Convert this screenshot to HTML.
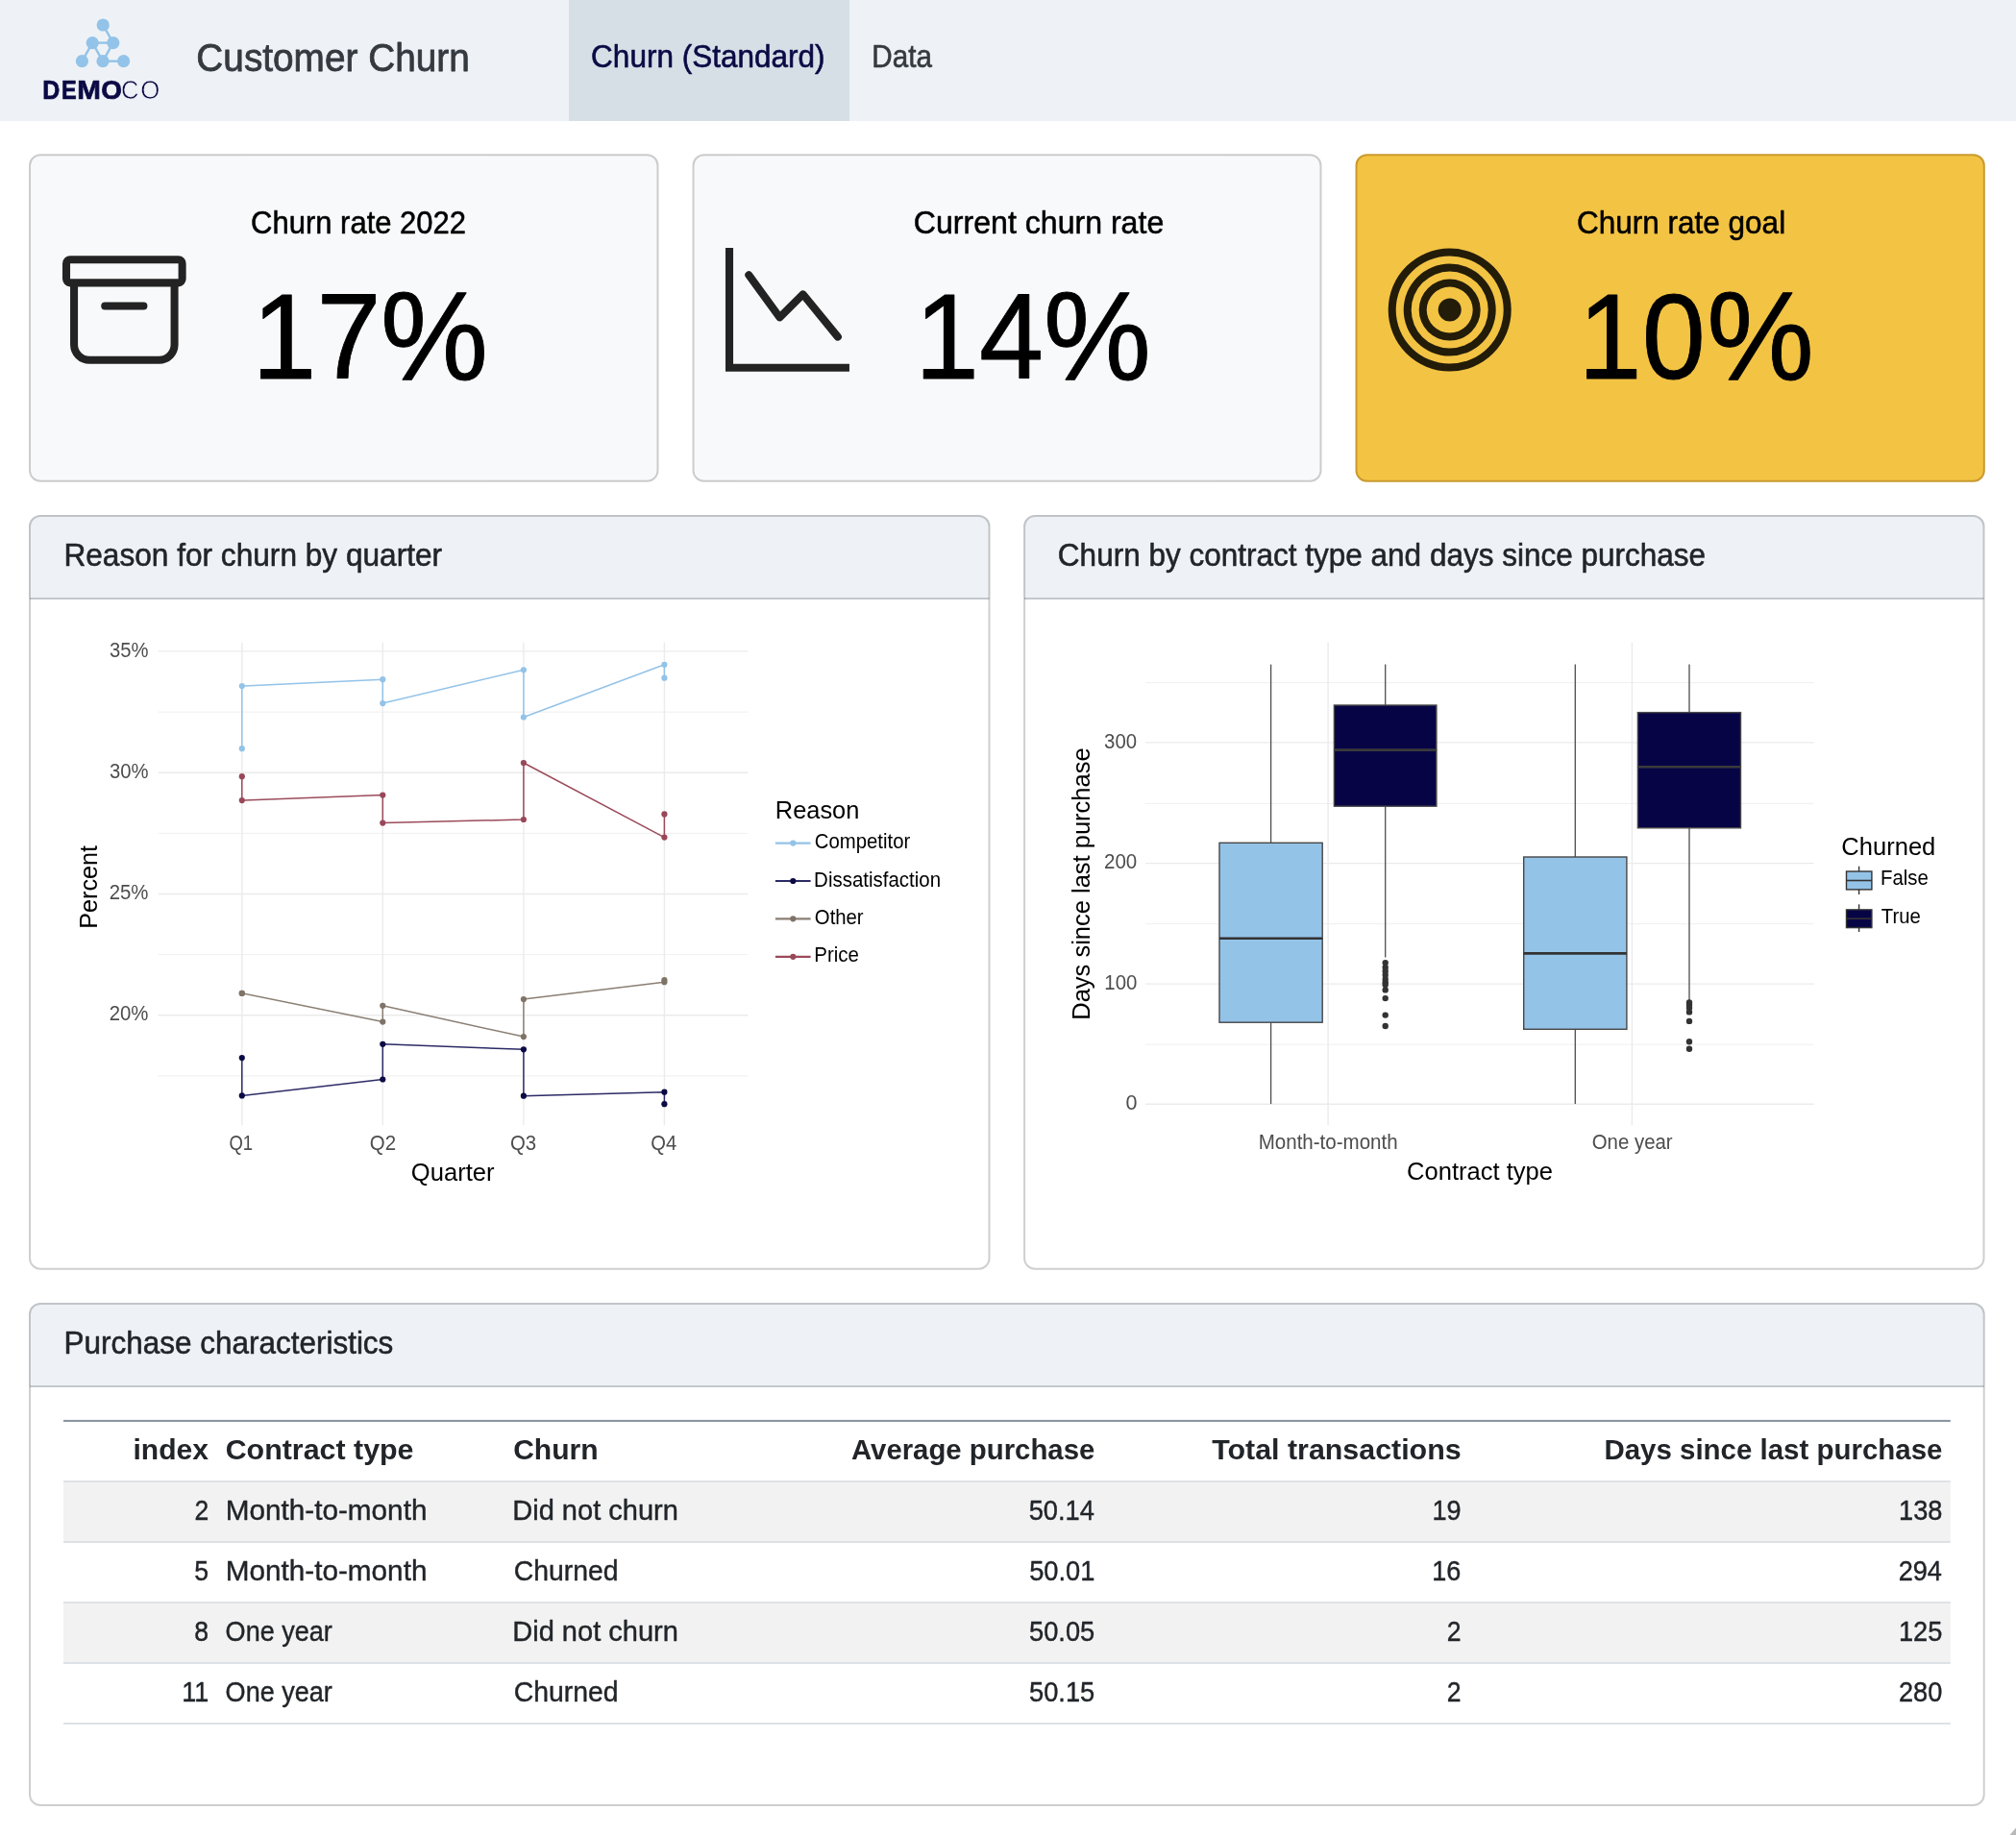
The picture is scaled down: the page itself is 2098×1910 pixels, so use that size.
<!DOCTYPE html>
<html lang="en"><head><meta charset="utf-8"><title>Customer Churn</title>
<style>
html,body{margin:0;padding:0;background:#fff;width:2098px;height:1910px;overflow:hidden}
svg{display:block;will-change:transform;font-family:"Liberation Sans",sans-serif}
</style></head><body>
<svg width="2098" height="1910" viewBox="0 0 2098 1910" font-family="Liberation Sans, sans-serif">
<rect x="0" y="0" width="2098" height="126" fill="#eef2f6"/>
<rect x="592" y="0" width="292" height="126" fill="#d6dfe6"/>
<line x1="107.2" y1="26.0" x2="117.8" y2="44.6" stroke="#93c3e8" stroke-width="2.4"/>
<line x1="96.2" y1="44.6" x2="117.8" y2="44.6" stroke="#93c3e8" stroke-width="2.4"/>
<line x1="96.2" y1="44.6" x2="85.4" y2="63.7" stroke="#93c3e8" stroke-width="2.4"/>
<line x1="96.2" y1="44.6" x2="107.0" y2="63.7" stroke="#93c3e8" stroke-width="2.4"/>
<line x1="117.8" y1="44.6" x2="107.0" y2="63.7" stroke="#93c3e8" stroke-width="2.4"/>
<line x1="107.0" y1="63.7" x2="128.6" y2="63.7" stroke="#93c3e8" stroke-width="2.4"/>
<circle cx="107.2" cy="26.0" r="6.6" fill="#93c3e8"/>
<circle cx="96.2" cy="44.6" r="6.6" fill="#93c3e8"/>
<circle cx="117.8" cy="44.6" r="6.6" fill="#93c3e8"/>
<circle cx="85.4" cy="63.7" r="6.6" fill="#93c3e8"/>
<circle cx="107.0" cy="63.7" r="6.6" fill="#93c3e8"/>
<circle cx="128.6" cy="63.7" r="6.6" fill="#93c3e8"/>
<rect x="31" y="161.3" width="653.5" height="339.5" rx="11" fill="#f8f9fa" stroke="rgba(0,0,0,0.19)" stroke-width="2"/>
<rect x="721.5" y="161.3" width="653" height="339.5" rx="11" fill="#f8f9fa" stroke="rgba(0,0,0,0.19)" stroke-width="2"/>
<rect x="1411.5" y="161.3" width="653.3" height="339.5" rx="11" fill="#f3c343" stroke="#c99b2e" stroke-width="2"/>
<g transform="translate(65,258.2) scale(8.04)" fill="#000" fill-opacity="0.86"><path d="M0 2a1 1 0 0 1 1-1h14a1 1 0 0 1 1 1v2a1 1 0 0 1-1 1v7.5a2.5 2.5 0 0 1-2.5 2.5h-9A2.5 2.5 0 0 1 1 12.5V5a1 1 0 0 1-1-1V2zm2 3v7.5A1.5 1.5 0 0 0 3.5 14h9a1.5 1.5 0 0 0 1.5-1.5V5H2zm13-3H1v2h14V2zM5 7.5a.5.5 0 0 1 .5-.5h5a.5.5 0 0 1 0 1h-5a.5.5 0 0 1-.5-.5z"/></g>
<g transform="translate(755,257.9) scale(8.06)" fill="#000" fill-opacity="0.86"><path d="M0 0h1v15h15v1H0V0Zm14.817 11.887a.5.5 0 0 0 .07-.704l-4.5-5.5a.5.5 0 0 0-.74-.037L7.06 8.233 3.404 3.206a.5.5 0 0 0-.808.588l4 5.5a.5.5 0 0 0 .758.06l2.609-2.61 4.15 5.073a.5.5 0 0 0 .704.07Z"/></g>
<g transform="translate(1444.7,258.6) scale(8)" fill="#000" fill-opacity="0.86"><path d="M8 15A7 7 0 1 1 8 1a7 7 0 0 1 0 14zm0 1A8 8 0 1 0 8 0a8 8 0 0 0 0 16z"/><path d="M8 13A5 5 0 1 1 8 3a5 5 0 0 1 0 10zm0 1A6 6 0 1 0 8 2a6 6 0 0 0 0 12z"/><path d="M8 11a3 3 0 1 1 0-6 3 3 0 0 1 0 6zm0 1a4 4 0 1 0 0-8 4 4 0 0 0 0 8z"/><path d="M9.5 8a1.5 1.5 0 1 1-3 0 1.5 1.5 0 0 1 3 0z"/></g>
<clipPath id="c30_536"><rect x="30" y="536" width="1000.5" height="785.8" rx="12"/></clipPath>
<rect x="30" y="536" width="1000.5" height="785.8" rx="12" fill="#fff"/>
<rect x="30" y="536" width="1000.5" height="86" fill="#eef2f6" clip-path="url(#c30_536)"/>
<rect x="31" y="622" width="998.5" height="2" fill="#c3c8cd"/>
<rect x="31" y="537" width="998.5" height="783.8" rx="11" fill="none" stroke="rgba(0,0,0,0.19)" stroke-width="2"/>
<clipPath id="c1065_536"><rect x="1065.1" y="536" width="1000.4" height="785.8" rx="12"/></clipPath>
<rect x="1065.1" y="536" width="1000.4" height="785.8" rx="12" fill="#fff"/>
<rect x="1065.1" y="536" width="1000.4" height="86" fill="#eef2f6" clip-path="url(#c1065_536)"/>
<rect x="1066.1" y="622" width="998.4" height="2" fill="#c3c8cd"/>
<rect x="1066.1" y="537" width="998.4" height="783.8" rx="11" fill="none" stroke="rgba(0,0,0,0.19)" stroke-width="2"/>
<clipPath id="c30_1356"><rect x="30" y="1356" width="2035.7" height="523.9" rx="12"/></clipPath>
<rect x="30" y="1356" width="2035.7" height="523.9" rx="12" fill="#fff"/>
<rect x="30" y="1356" width="2035.7" height="86" fill="#eef2f6" clip-path="url(#c30_1356)"/>
<rect x="31" y="1442" width="2033.7" height="2" fill="#c3c8cd"/>
<rect x="31" y="1357" width="2033.7" height="521.9" rx="11" fill="none" stroke="rgba(0,0,0,0.19)" stroke-width="2"/>
<path d="M2091.5 1910 L2098 1902.5 L2098 1910 Z" fill="#b8b8b8"/>
<line x1="164.6" x2="778.4" y1="741.1" y2="741.1" stroke="#ebebeb" stroke-width="0.8"/>
<line x1="164.6" x2="778.4" y1="867.4" y2="867.4" stroke="#ebebeb" stroke-width="0.8"/>
<line x1="164.6" x2="778.4" y1="993.6" y2="993.6" stroke="#ebebeb" stroke-width="0.8"/>
<line x1="164.6" x2="778.4" y1="1119.9" y2="1119.9" stroke="#ebebeb" stroke-width="0.8"/>
<line x1="164.6" x2="778.4" y1="677.9" y2="677.9" stroke="#ebebeb" stroke-width="1.4"/>
<line x1="164.6" x2="778.4" y1="804.2" y2="804.2" stroke="#ebebeb" stroke-width="1.4"/>
<line x1="164.6" x2="778.4" y1="930.5" y2="930.5" stroke="#ebebeb" stroke-width="1.4"/>
<line x1="164.6" x2="778.4" y1="1056.8" y2="1056.8" stroke="#ebebeb" stroke-width="1.4"/>
<line x1="251.8" x2="251.8" y1="668.8" y2="1171.2" stroke="#ebebeb" stroke-width="1.4"/>
<line x1="398.3" x2="398.3" y1="668.8" y2="1171.2" stroke="#ebebeb" stroke-width="1.4"/>
<line x1="544.9" x2="544.9" y1="668.8" y2="1171.2" stroke="#ebebeb" stroke-width="1.4"/>
<line x1="691.4" x2="691.4" y1="668.8" y2="1171.2" stroke="#ebebeb" stroke-width="1.4"/>
<path d="M251.8,779.2 L251.8,714.0 L398.3,707.2 L398.3,732.1 L544.9,697.3 L544.9,746.5 L691.4,691.8 L691.4,705.7" fill="none" stroke="#93c3e8" stroke-width="1.5" stroke-linejoin="round"/>
<circle cx="251.8" cy="779.2" r="3.1" fill="#93c3e8"/>
<circle cx="251.8" cy="714.0" r="3.1" fill="#93c3e8"/>
<circle cx="398.3" cy="707.2" r="3.1" fill="#93c3e8"/>
<circle cx="398.3" cy="732.1" r="3.1" fill="#93c3e8"/>
<circle cx="544.9" cy="697.3" r="3.1" fill="#93c3e8"/>
<circle cx="544.9" cy="746.5" r="3.1" fill="#93c3e8"/>
<circle cx="691.4" cy="691.8" r="3.1" fill="#93c3e8"/>
<circle cx="691.4" cy="705.7" r="3.1" fill="#93c3e8"/>
<path d="M251.8,808.2 L251.8,833.1 L398.3,827.6 L398.3,856.6 L544.9,853.0 L544.9,794.0 L691.4,871.6 L691.4,847.4" fill="none" stroke="#9b4b5b" stroke-width="1.5" stroke-linejoin="round"/>
<circle cx="251.8" cy="808.2" r="3.1" fill="#984858"/>
<circle cx="251.8" cy="833.1" r="3.1" fill="#984858"/>
<circle cx="398.3" cy="827.6" r="3.1" fill="#984858"/>
<circle cx="398.3" cy="856.6" r="3.1" fill="#984858"/>
<circle cx="544.9" cy="853.0" r="3.1" fill="#984858"/>
<circle cx="544.9" cy="794.0" r="3.1" fill="#984858"/>
<circle cx="691.4" cy="871.6" r="3.1" fill="#984858"/>
<circle cx="691.4" cy="847.4" r="3.1" fill="#984858"/>
<path d="M251.8,1033.9 L251.8,1033.9 L398.3,1063.6 L398.3,1046.8 L544.9,1079.1 L544.9,1040.1 L691.4,1022.2 L691.4,1020.0" fill="none" stroke="#8a7f73" stroke-width="1.5" stroke-linejoin="round"/>
<circle cx="251.8" cy="1033.9" r="3.1" fill="#7f7367"/>
<circle cx="251.8" cy="1033.9" r="3.1" fill="#7f7367"/>
<circle cx="398.3" cy="1063.6" r="3.1" fill="#7f7367"/>
<circle cx="398.3" cy="1046.8" r="3.1" fill="#7f7367"/>
<circle cx="544.9" cy="1079.1" r="3.1" fill="#7f7367"/>
<circle cx="544.9" cy="1040.1" r="3.1" fill="#7f7367"/>
<circle cx="691.4" cy="1022.2" r="3.1" fill="#7f7367"/>
<circle cx="691.4" cy="1020.0" r="3.1" fill="#7f7367"/>
<path d="M251.8,1101.1 L251.8,1140.4 L398.3,1123.5 L398.3,1086.8 L544.9,1092.3 L544.9,1140.7 L691.4,1136.7 L691.4,1149.2" fill="none" stroke="#2c2b66" stroke-width="1.5" stroke-linejoin="round"/>
<circle cx="251.8" cy="1101.1" r="3.1" fill="#0b0a45"/>
<circle cx="251.8" cy="1140.4" r="3.1" fill="#0b0a45"/>
<circle cx="398.3" cy="1123.5" r="3.1" fill="#0b0a45"/>
<circle cx="398.3" cy="1086.8" r="3.1" fill="#0b0a45"/>
<circle cx="544.9" cy="1092.3" r="3.1" fill="#0b0a45"/>
<circle cx="544.9" cy="1140.7" r="3.1" fill="#0b0a45"/>
<circle cx="691.4" cy="1136.7" r="3.1" fill="#0b0a45"/>
<circle cx="691.4" cy="1149.2" r="3.1" fill="#0b0a45"/>
<line x1="806.9" x2="843.6" y1="877.6" y2="877.6" stroke="#93c3e8" stroke-width="2.2"/>
<circle cx="825.3" cy="877.6" r="3.1" fill="#93c3e8"/>
<line x1="806.9" x2="843.6" y1="917.0" y2="917.0" stroke="#2c2b66" stroke-width="2.2"/>
<circle cx="825.3" cy="917.0" r="3.1" fill="#0b0a45"/>
<line x1="806.9" x2="843.6" y1="956.3" y2="956.3" stroke="#8a7f73" stroke-width="2.2"/>
<circle cx="825.3" cy="956.3" r="3.1" fill="#7f7367"/>
<line x1="806.9" x2="843.6" y1="995.8" y2="995.8" stroke="#9b4b5b" stroke-width="2.2"/>
<circle cx="825.3" cy="995.8" r="3.1" fill="#984858"/>
<line x1="1192" x2="1887.7" y1="710.6" y2="710.6" stroke="#ebebeb" stroke-width="0.8"/>
<line x1="1192" x2="1887.7" y1="836.4" y2="836.4" stroke="#ebebeb" stroke-width="0.8"/>
<line x1="1192" x2="1887.7" y1="961.6" y2="961.6" stroke="#ebebeb" stroke-width="0.8"/>
<line x1="1192" x2="1887.7" y1="1087.2" y2="1087.2" stroke="#ebebeb" stroke-width="0.8"/>
<line x1="1192" x2="1887.7" y1="772.9" y2="772.9" stroke="#ebebeb" stroke-width="1.4"/>
<line x1="1192" x2="1887.7" y1="898.6" y2="898.6" stroke="#ebebeb" stroke-width="1.4"/>
<line x1="1192" x2="1887.7" y1="1024.1" y2="1024.1" stroke="#ebebeb" stroke-width="1.4"/>
<line x1="1192" x2="1887.7" y1="1149.3" y2="1149.3" stroke="#ebebeb" stroke-width="1.4"/>
<line x1="1382.1" x2="1382.1" y1="668.6" y2="1171.2" stroke="#ebebeb" stroke-width="1.4"/>
<line x1="1698.4" x2="1698.4" y1="668.6" y2="1171.2" stroke="#ebebeb" stroke-width="1.4"/>
<line x1="1322.6" x2="1322.6" y1="691.6" y2="877.3" stroke="#4d4d4d" stroke-width="1.3"/>
<line x1="1322.6" x2="1322.6" y1="1064.2" y2="1149.1" stroke="#4d4d4d" stroke-width="1.3"/>
<rect x="1269.0" y="877.3" width="107.20" height="186.90" fill="#94c3e8" stroke="#474747" stroke-width="1.4"/>
<line x1="1269.0" x2="1376.2" y1="976.8" y2="976.8" stroke="#333333" stroke-width="2.6"/>
<line x1="1441.7" x2="1441.7" y1="691.6" y2="734.0" stroke="#4d4d4d" stroke-width="1.3"/>
<line x1="1441.7" x2="1441.7" y1="839.2" y2="996.5" stroke="#4d4d4d" stroke-width="1.3"/>
<rect x="1388.4" y="734.0" width="106.50" height="105.20" fill="#070446" stroke="#474747" stroke-width="1.4"/>
<line x1="1388.4" x2="1494.9" y1="780.6" y2="780.6" stroke="#3a3a3a" stroke-width="2.6"/>
<circle cx="1441.7" cy="1002.1" r="3.2" fill="#333333"/>
<circle cx="1441.7" cy="1007" r="3.2" fill="#333333"/>
<circle cx="1441.7" cy="1011" r="3.2" fill="#333333"/>
<circle cx="1441.7" cy="1015" r="3.2" fill="#333333"/>
<circle cx="1441.7" cy="1019" r="3.2" fill="#333333"/>
<circle cx="1441.7" cy="1022.5" r="3.2" fill="#333333"/>
<circle cx="1441.7" cy="1025" r="3.2" fill="#333333"/>
<circle cx="1441.7" cy="1030.4" r="3.2" fill="#333333"/>
<circle cx="1441.7" cy="1039.1" r="3.2" fill="#333333"/>
<circle cx="1441.7" cy="1056.6" r="3.2" fill="#333333"/>
<circle cx="1441.7" cy="1068.0" r="3.2" fill="#333333"/>
<line x1="1639.3" x2="1639.3" y1="691.6" y2="892.0" stroke="#4d4d4d" stroke-width="1.3"/>
<line x1="1639.3" x2="1639.3" y1="1071.3" y2="1149.1" stroke="#4d4d4d" stroke-width="1.3"/>
<rect x="1585.7" y="892.0" width="107.20" height="179.30" fill="#94c3e8" stroke="#474747" stroke-width="1.4"/>
<line x1="1585.7" x2="1692.9" y1="992.4" y2="992.4" stroke="#333333" stroke-width="2.6"/>
<line x1="1758.0" x2="1758.0" y1="691.6" y2="741.6" stroke="#4d4d4d" stroke-width="1.3"/>
<line x1="1758.0" x2="1758.0" y1="861.8" y2="1041.6" stroke="#4d4d4d" stroke-width="1.3"/>
<rect x="1704.4" y="741.6" width="107.10" height="120.20" fill="#070446" stroke="#474747" stroke-width="1.4"/>
<line x1="1704.4" x2="1811.5" y1="798.3" y2="798.3" stroke="#3a3a3a" stroke-width="2.6"/>
<circle cx="1758.0" cy="1043.5" r="3.2" fill="#333333"/>
<circle cx="1758.0" cy="1046" r="3.2" fill="#333333"/>
<circle cx="1758.0" cy="1049" r="3.2" fill="#333333"/>
<circle cx="1758.0" cy="1053.4" r="3.2" fill="#333333"/>
<circle cx="1758.0" cy="1062.9" r="3.2" fill="#333333"/>
<circle cx="1758.0" cy="1084.2" r="3.2" fill="#333333"/>
<circle cx="1758.0" cy="1091.8" r="3.2" fill="#333333"/>
<line x1="1934.6" x2="1934.6" y1="901.7" y2="931" stroke="#333333" stroke-width="1.4"/>
<rect x="1921.5" y="907" width="26.4" height="18.90" fill="#94c3e8" stroke="#333333" stroke-width="1.4"/>
<line x1="1921.5" x2="1947.9" y1="916.5" y2="916.5" stroke="#333333" stroke-width="1.6"/>
<line x1="1934.6" x2="1934.6" y1="941.3" y2="970" stroke="#333333" stroke-width="1.4"/>
<rect x="1921.5" y="946.9" width="26.4" height="18.70" fill="#070446" stroke="#333333" stroke-width="1.4"/>
<line x1="1921.5" x2="1947.9" y1="956.2" y2="956.2" stroke="#333333" stroke-width="1.6"/>
<rect x="66" y="1477.9" width="1963.8" height="2.1" fill="#8c96a0"/>
<rect x="66" y="1543.0" width="1963.8" height="61" fill="#f2f2f2"/>
<rect x="66" y="1669.0" width="1963.8" height="61" fill="#f2f2f2"/>
<rect x="66" y="1541.0" width="1963.8" height="2" fill="#dee2e6"/>
<rect x="66" y="1604.0" width="1963.8" height="2" fill="#dee2e6"/>
<rect x="66" y="1667.0" width="1963.8" height="2" fill="#dee2e6"/>
<rect x="66" y="1730.0" width="1963.8" height="2" fill="#dee2e6"/>
<rect x="66" y="1793.0" width="1963.8" height="2" fill="#dee2e6"/>
<text x="204.33" y="73.90" font-size="40.0" font-weight="400" fill="#343a40" textLength="284.39" lengthAdjust="spacingAndGlyphs"  stroke="#343a40" stroke-width="0.8" stroke-linejoin="round">Customer Churn</text>
<text x="615.10" y="70.10" font-size="32.6" font-weight="400" fill="#0b0a45" textLength="243.46" lengthAdjust="spacingAndGlyphs"  stroke="#0b0a45" stroke-width="0.6" stroke-linejoin="round">Churn (Standard)</text>
<text x="907.37" y="69.90" font-size="32.6" font-weight="400" fill="#343a40" textLength="62.53" lengthAdjust="spacingAndGlyphs"  stroke="#343a40" stroke-width="0.6" stroke-linejoin="round">Data</text>
<text x="44.33" y="102.80" font-size="27.2" font-weight="700" fill="#0b0a45" textLength="18.02" lengthAdjust="spacingAndGlyphs" stroke="#0b0a45" stroke-width="0.7">D</text>
<text x="63.93" y="102.80" font-size="27.2" font-weight="700" fill="#0b0a45" textLength="15.69" lengthAdjust="spacingAndGlyphs" stroke="#0b0a45" stroke-width="0.7">E</text>
<text x="80.22" y="102.80" font-size="27.2" font-weight="700" fill="#0b0a45" textLength="24.66" lengthAdjust="spacingAndGlyphs" stroke="#0b0a45" stroke-width="0.7">M</text>
<text x="105.25" y="102.80" font-size="27.2" font-weight="700" fill="#0b0a45" textLength="21.72" lengthAdjust="spacingAndGlyphs" stroke="#0b0a45" stroke-width="0.7">O</text>
<text x="126.11" y="102.80" font-size="27.2" font-weight="400" fill="#0b0a45" textLength="18.36" lengthAdjust="spacingAndGlyphs" stroke="#eef2f6" stroke-width="0.6">C</text>
<text x="146.28" y="102.80" font-size="27.2" font-weight="400" fill="#0b0a45" textLength="20.06" lengthAdjust="spacingAndGlyphs" stroke="#eef2f6" stroke-width="0.6">O</text>
<text x="261.10" y="243.10" font-size="33.2" font-weight="400" fill="#000" textLength="223.98" lengthAdjust="spacingAndGlyphs"  stroke="#000" stroke-width="0.55" stroke-linejoin="round">Churn rate 2022</text>
<text x="950.84" y="242.90" font-size="33.2" font-weight="400" fill="#000" textLength="260.41" lengthAdjust="spacingAndGlyphs"  stroke="#000" stroke-width="0.55" stroke-linejoin="round">Current churn rate</text>
<text x="1640.97" y="242.90" font-size="33.2" font-weight="400" fill="#000" textLength="217.16" lengthAdjust="spacingAndGlyphs"  stroke="#000" stroke-width="0.55" stroke-linejoin="round">Churn rate goal</text>
<text x="262.36" y="393.90" font-size="126.5" font-weight="400" fill="#000" textLength="134.27" lengthAdjust="spacingAndGlyphs"  stroke="#000" stroke-width="0.9" stroke-linejoin="round">17</text>
<text x="395.96" y="394.60" font-size="132" font-weight="400" fill="#000" textLength="111.98" lengthAdjust="spacingAndGlyphs"  stroke="#000" stroke-width="0.9" stroke-linejoin="round">%</text>
<text x="952.07" y="393.90" font-size="126.5" font-weight="400" fill="#000" textLength="134.01" lengthAdjust="spacingAndGlyphs"  stroke="#000" stroke-width="0.9" stroke-linejoin="round">14</text>
<text x="1085.97" y="394.60" font-size="132" font-weight="400" fill="#000" textLength="111.87" lengthAdjust="spacingAndGlyphs"  stroke="#000" stroke-width="0.9" stroke-linejoin="round">%</text>
<text x="1642.60" y="393.70" font-size="126.5" font-weight="400" fill="#000" textLength="132.20" lengthAdjust="spacingAndGlyphs"  stroke="#000" stroke-width="0.9" stroke-linejoin="round">10</text>
<text x="1776.28" y="394.60" font-size="132" font-weight="400" fill="#000" textLength="111.54" lengthAdjust="spacingAndGlyphs"  stroke="#000" stroke-width="0.9" stroke-linejoin="round">%</text>
<text x="66.38" y="588.90" font-size="32.6" font-weight="400" fill="#212529" textLength="393.77" lengthAdjust="spacingAndGlyphs"  stroke="#212529" stroke-width="0.55" stroke-linejoin="round">Reason for churn by quarter</text>
<text x="1100.87" y="588.90" font-size="32.6" font-weight="400" fill="#212529" textLength="674.25" lengthAdjust="spacingAndGlyphs"  stroke="#212529" stroke-width="0.55" stroke-linejoin="round">Churn by contract type and days since purchase</text>
<text x="66.59" y="1408.90" font-size="32.6" font-weight="400" fill="#212529" textLength="342.77" lengthAdjust="spacingAndGlyphs"  stroke="#212529" stroke-width="0.55" stroke-linejoin="round">Purchase characteristics</text>
<text x="113.93" y="684.40" font-size="21.6" font-weight="400" fill="#4d4d4d" textLength="40.49" lengthAdjust="spacingAndGlyphs" >35%</text>
<text x="113.93" y="810.40" font-size="21.6" font-weight="400" fill="#4d4d4d" textLength="40.49" lengthAdjust="spacingAndGlyphs" >30%</text>
<text x="113.68" y="936.30" font-size="21.6" font-weight="400" fill="#4d4d4d" textLength="40.75" lengthAdjust="spacingAndGlyphs" >25%</text>
<text x="113.68" y="1062.30" font-size="21.6" font-weight="400" fill="#4d4d4d" textLength="40.75" lengthAdjust="spacingAndGlyphs" >20%</text>
<text x="238.42" y="1197.20" font-size="21.6" font-weight="400" fill="#4d4d4d" textLength="24.68" lengthAdjust="spacingAndGlyphs" >Q1</text>
<text x="384.73" y="1197.20" font-size="21.6" font-weight="400" fill="#4d4d4d" textLength="27.30" lengthAdjust="spacingAndGlyphs" >Q2</text>
<text x="531.04" y="1197.20" font-size="21.6" font-weight="400" fill="#4d4d4d" textLength="27.16" lengthAdjust="spacingAndGlyphs" >Q3</text>
<text x="677.35" y="1197.20" font-size="21.6" font-weight="400" fill="#4d4d4d" textLength="26.84" lengthAdjust="spacingAndGlyphs" >Q4</text>
<text x="427.79" y="1228.80" font-size="25.8" font-weight="400" fill="#000" textLength="86.74" lengthAdjust="spacingAndGlyphs" >Quarter</text>
<text transform="translate(101.20,964.70) rotate(-90)" x="-2.07" y="0" font-size="25.8" font-weight="400" fill="#000" textLength="86.75" lengthAdjust="spacingAndGlyphs">Percent</text>
<text x="806.82" y="852.00" font-size="25.8" font-weight="400" fill="#000" textLength="87.53" lengthAdjust="spacingAndGlyphs" >Reason</text>
<text x="847.77" y="883.00" font-size="21.6" font-weight="400" fill="#000" textLength="99.47" lengthAdjust="spacingAndGlyphs" >Competitor</text>
<text x="847.12" y="922.60" font-size="21.6" font-weight="400" fill="#000" textLength="131.91" lengthAdjust="spacingAndGlyphs" >Dissatisfaction</text>
<text x="847.84" y="961.80" font-size="21.6" font-weight="400" fill="#000" textLength="50.80" lengthAdjust="spacingAndGlyphs" >Other</text>
<text x="847.32" y="1001.40" font-size="21.6" font-weight="400" fill="#000" textLength="46.59" lengthAdjust="spacingAndGlyphs" >Price</text>
<text x="1149.12" y="778.80" font-size="21.6" font-weight="400" fill="#4d4d4d" textLength="33.97" lengthAdjust="spacingAndGlyphs" >300</text>
<text x="1148.97" y="904.40" font-size="21.6" font-weight="400" fill="#4d4d4d" textLength="34.23" lengthAdjust="spacingAndGlyphs" >200</text>
<text x="1149.34" y="1029.60" font-size="21.6" font-weight="400" fill="#4d4d4d" textLength="34.05" lengthAdjust="spacingAndGlyphs" >100</text>
<text x="1171.46" y="1155.20" font-size="21.6" font-weight="400" fill="#4d4d4d" textLength="11.98" lengthAdjust="spacingAndGlyphs" >0</text>
<text x="1309.72" y="1196.20" font-size="21.6" font-weight="400" fill="#4d4d4d" textLength="144.92" lengthAdjust="spacingAndGlyphs" >Month-to-month</text>
<text x="1656.73" y="1196.20" font-size="21.6" font-weight="400" fill="#4d4d4d" textLength="83.91" lengthAdjust="spacingAndGlyphs" >One year</text>
<text x="1464.10" y="1228.20" font-size="25.8" font-weight="400" fill="#000" textLength="151.93" lengthAdjust="spacingAndGlyphs" >Contract type</text>
<text transform="translate(1134.40,1059.70) rotate(-90)" x="-2.09" y="0" font-size="25.8" font-weight="400" fill="#000" textLength="283.42" lengthAdjust="spacingAndGlyphs">Days since last purchase</text>
<text x="1916.30" y="890.20" font-size="25.8" font-weight="400" fill="#000" textLength="98.05" lengthAdjust="spacingAndGlyphs" >Churned</text>
<text x="1957.03" y="921.10" font-size="21.6" font-weight="400" fill="#000" textLength="49.88" lengthAdjust="spacingAndGlyphs" >False</text>
<text x="1957.84" y="960.80" font-size="21.6" font-weight="400" fill="#000" textLength="41.06" lengthAdjust="spacingAndGlyphs" >True</text>
<text x="138.50" y="1518.90" font-size="29.0" font-weight="700" fill="#212529" textLength="78.52" lengthAdjust="spacingAndGlyphs" >index</text>
<text x="234.65" y="1518.90" font-size="29.0" font-weight="700" fill="#212529" textLength="195.89" lengthAdjust="spacingAndGlyphs" >Contract type</text>
<text x="534.17" y="1518.90" font-size="29.0" font-weight="700" fill="#212529" textLength="88.50" lengthAdjust="spacingAndGlyphs" >Churn</text>
<text x="885.97" y="1518.90" font-size="29.0" font-weight="700" fill="#212529" textLength="253.33" lengthAdjust="spacingAndGlyphs" >Average purchase</text>
<text x="1261.16" y="1518.90" font-size="29.0" font-weight="700" fill="#212529" textLength="259.49" lengthAdjust="spacingAndGlyphs" >Total transactions</text>
<text x="1669.43" y="1518.90" font-size="29.0" font-weight="700" fill="#212529" textLength="351.98" lengthAdjust="spacingAndGlyphs" >Days since last purchase</text>
<text x="202.57" y="1581.90" font-size="29.5" font-weight="400" fill="#212529" textLength="14.77" lengthAdjust="spacingAndGlyphs"  stroke="#212529" stroke-width="0.4" stroke-linejoin="round">2</text>
<text x="234.66" y="1581.90" font-size="29.5" font-weight="400" fill="#212529" textLength="209.77" lengthAdjust="spacingAndGlyphs"  stroke="#212529" stroke-width="0.4" stroke-linejoin="round">Month-to-month</text>
<text x="533.22" y="1581.90" font-size="29.5" font-weight="400" fill="#212529" textLength="172.67" lengthAdjust="spacingAndGlyphs"  stroke="#212529" stroke-width="0.4" stroke-linejoin="round">Did not churn</text>
<text x="1070.66" y="1581.90" font-size="29.5" font-weight="400" fill="#212529" textLength="68.24" lengthAdjust="spacingAndGlyphs"  stroke="#212529" stroke-width="0.4" stroke-linejoin="round">50.14</text>
<text x="1490.41" y="1581.90" font-size="29.5" font-weight="400" fill="#212529" textLength="30.07" lengthAdjust="spacingAndGlyphs"  stroke="#212529" stroke-width="0.4" stroke-linejoin="round">19</text>
<text x="1976.04" y="1581.90" font-size="29.5" font-weight="400" fill="#212529" textLength="45.34" lengthAdjust="spacingAndGlyphs"  stroke="#212529" stroke-width="0.4" stroke-linejoin="round">138</text>
<text x="202.33" y="1644.90" font-size="29.5" font-weight="400" fill="#212529" textLength="14.79" lengthAdjust="spacingAndGlyphs"  stroke="#212529" stroke-width="0.4" stroke-linejoin="round">5</text>
<text x="234.66" y="1644.90" font-size="29.5" font-weight="400" fill="#212529" textLength="209.77" lengthAdjust="spacingAndGlyphs"  stroke="#212529" stroke-width="0.4" stroke-linejoin="round">Month-to-month</text>
<text x="534.76" y="1644.90" font-size="29.5" font-weight="400" fill="#212529" textLength="108.87" lengthAdjust="spacingAndGlyphs"  stroke="#212529" stroke-width="0.4" stroke-linejoin="round">Churned</text>
<text x="1071.19" y="1644.90" font-size="29.5" font-weight="400" fill="#212529" textLength="68.24" lengthAdjust="spacingAndGlyphs"  stroke="#212529" stroke-width="0.4" stroke-linejoin="round">50.01</text>
<text x="1490.32" y="1644.90" font-size="29.5" font-weight="400" fill="#212529" textLength="30.07" lengthAdjust="spacingAndGlyphs"  stroke="#212529" stroke-width="0.4" stroke-linejoin="round">16</text>
<text x="1975.64" y="1644.90" font-size="29.5" font-weight="400" fill="#212529" textLength="45.35" lengthAdjust="spacingAndGlyphs"  stroke="#212529" stroke-width="0.4" stroke-linejoin="round">294</text>
<text x="202.37" y="1707.90" font-size="29.5" font-weight="400" fill="#212529" textLength="14.78" lengthAdjust="spacingAndGlyphs"  stroke="#212529" stroke-width="0.4" stroke-linejoin="round">8</text>
<text x="234.62" y="1707.90" font-size="29.5" font-weight="400" fill="#212529" textLength="111.23" lengthAdjust="spacingAndGlyphs"  stroke="#212529" stroke-width="0.4" stroke-linejoin="round">One year</text>
<text x="533.22" y="1707.90" font-size="29.5" font-weight="400" fill="#212529" textLength="172.67" lengthAdjust="spacingAndGlyphs"  stroke="#212529" stroke-width="0.4" stroke-linejoin="round">Did not churn</text>
<text x="1071.00" y="1707.90" font-size="29.5" font-weight="400" fill="#212529" textLength="68.24" lengthAdjust="spacingAndGlyphs"  stroke="#212529" stroke-width="0.4" stroke-linejoin="round">50.05</text>
<text x="1505.77" y="1707.90" font-size="29.5" font-weight="400" fill="#212529" textLength="14.77" lengthAdjust="spacingAndGlyphs"  stroke="#212529" stroke-width="0.4" stroke-linejoin="round">2</text>
<text x="1976.00" y="1707.90" font-size="29.5" font-weight="400" fill="#212529" textLength="45.34" lengthAdjust="spacingAndGlyphs"  stroke="#212529" stroke-width="0.4" stroke-linejoin="round">125</text>
<text x="189.29" y="1770.90" font-size="29.5" font-weight="400" fill="#212529" textLength="28.03" lengthAdjust="spacingAndGlyphs"  stroke="#212529" stroke-width="0.4" stroke-linejoin="round">11</text>
<text x="234.62" y="1770.90" font-size="29.5" font-weight="400" fill="#212529" textLength="111.23" lengthAdjust="spacingAndGlyphs"  stroke="#212529" stroke-width="0.4" stroke-linejoin="round">One year</text>
<text x="534.76" y="1770.90" font-size="29.5" font-weight="400" fill="#212529" textLength="108.87" lengthAdjust="spacingAndGlyphs"  stroke="#212529" stroke-width="0.4" stroke-linejoin="round">Churned</text>
<text x="1071.00" y="1770.90" font-size="29.5" font-weight="400" fill="#212529" textLength="68.24" lengthAdjust="spacingAndGlyphs"  stroke="#212529" stroke-width="0.4" stroke-linejoin="round">50.15</text>
<text x="1505.77" y="1770.90" font-size="29.5" font-weight="400" fill="#212529" textLength="14.77" lengthAdjust="spacingAndGlyphs"  stroke="#212529" stroke-width="0.4" stroke-linejoin="round">2</text>
<text x="1975.91" y="1770.90" font-size="29.5" font-weight="400" fill="#212529" textLength="45.35" lengthAdjust="spacingAndGlyphs"  stroke="#212529" stroke-width="0.4" stroke-linejoin="round">280</text>
</svg>
</body></html>
